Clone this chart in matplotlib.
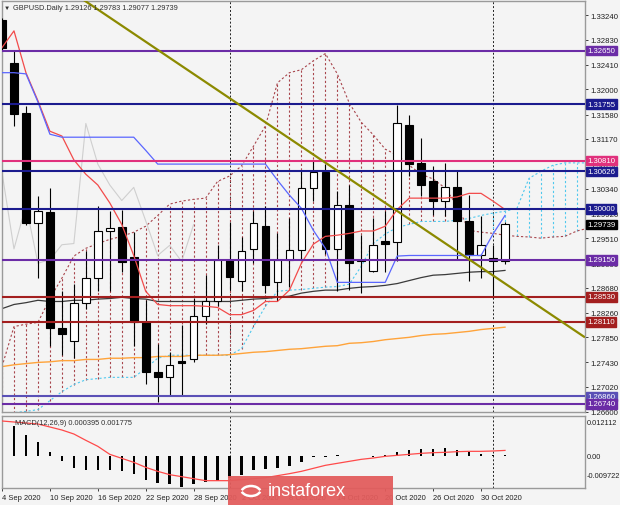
import matplotlib
matplotlib.use("Agg")
import matplotlib.pyplot as plt
import matplotlib.transforms as mtransforms
from matplotlib.patches import Rectangle, Arc
import numpy as np

plt.rcParams['font.family'] = ['Liberation Sans', 'DejaVu Sans']

# daily bars, 4 Sep 2020 .. 3 Nov 2020
dates = ["4 Sep", "7 Sep", "8 Sep", "9 Sep", "10 Sep", "11 Sep", "14 Sep", "15 Sep",
         "16 Sep", "17 Sep", "18 Sep", "21 Sep", "22 Sep", "23 Sep", "24 Sep", "25 Sep",
         "28 Sep", "29 Sep", "30 Sep", "1 Oct", "2 Oct", "5 Oct", "6 Oct", "7 Oct",
         "8 Oct", "9 Oct", "12 Oct", "13 Oct", "14 Oct", "15 Oct", "16 Oct", "19 Oct",
         "20 Oct", "21 Oct", "22 Oct", "23 Oct", "26 Oct", "27 Oct", "28 Oct", "29 Oct",
         "30 Oct", "2 Nov", "3 Nov"]

opens = [1.3317, 1.3244, 1.3160, 1.2976, 1.2994, 1.2800, 1.2779, 1.2843, 1.2884, 1.2963,
         1.2970, 1.2920, 1.2811, 1.2727, 1.2719, 1.2745, 1.2749, 1.2820, 1.2845, 1.2914,
         1.2880, 1.2933, 1.2972, 1.2877, 1.2915, 1.2932, 1.3035, 1.3061, 1.2933, 1.3006,
         1.2912, 1.2896, 1.2947, 1.2945, 1.3141, 1.3076, 1.3046, 1.3014, 1.3036, 1.2980,
         1.2922, 1.2918, 1.29126]
highs = [1.3320, 1.3265, 1.3172, 1.3021, 1.3035, 1.2863, 1.2875, 1.2929, 1.3005, 1.2996,
         1.2998, 1.2962, 1.2847, 1.2774, 1.2761, 1.2805, 1.2850, 1.2890, 1.2940, 1.2978,
         1.2953, 1.2996, 1.3005, 1.2960, 1.2985, 1.3063, 1.3082, 1.3075, 1.3030, 1.3040,
         1.2956, 1.2984, 1.2996, 1.3174, 1.3158, 1.3118, 1.3071, 1.3076, 1.3063, 1.3023,
         1.2988, 1.2940, 1.29783]
lows = [1.3266, 1.3139, 1.2973, 1.2884, 1.2770, 1.2755, 1.2750, 1.2833, 1.2862, 1.2862,
        1.2895, 1.2771, 1.2707, 1.2676, 1.2687, 1.2687, 1.2744, 1.2808, 1.2838, 1.2864,
        1.2862, 1.2910, 1.2860, 1.2845, 1.2870, 1.2915, 1.3013, 1.2925, 1.2862, 1.2864,
        1.2859, 1.2895, 1.2895, 1.2912, 1.3055, 1.3022, 1.2990, 1.2988, 1.2914, 1.2879,
        1.2884, 1.2850, 1.29077]
closes = [1.3270, 1.3159, 1.2976, 1.2996, 1.2800, 1.2790, 1.2843, 1.2884, 1.2963, 1.2968,
          1.2911, 1.2811, 1.2727, 1.2719, 1.2739, 1.2742, 1.2820, 1.2845, 1.2914, 1.2886,
          1.2930, 1.2976, 1.2872, 1.2914, 1.2932, 1.3035, 1.3061, 1.2933, 1.3006, 1.2909,
          1.2915, 1.2940, 1.2942, 1.3143, 1.3075, 1.3040, 1.3014, 1.3036, 1.2980, 1.2922,
          1.2939, 1.2912, 1.29739]

# ichimoku
tenkan = [1.3270, 1.3298, 1.3228, 1.3181, 1.3130, 1.3122, 1.3082, 1.3058, 1.3040, 1.3010,
          1.2974, 1.2922, 1.2862, 1.2840, 1.2838, 1.2838, 1.2838, 1.2837, 1.2835, 1.2823,
          1.2823, 1.2830, 1.2845, 1.2845, 1.2864, 1.2909, 1.2941, 1.2954, 1.2956, 1.2959,
          1.2963, 1.2963, 1.2971, 1.2999, 1.3018, 1.3018, 1.3018, 1.3018, 1.3020, 1.3026,
          1.3026, 1.3013, 1.2999]
kijun = [1.3228, 1.3228, 1.3226, 1.3179, 1.3125, 1.3120, 1.3120, 1.3120, 1.3120, 1.3120,
         1.3120, 1.3120, 1.3098, 1.3075, 1.3075, 1.3075, 1.3075, 1.3075, 1.3075, 1.3075,
         1.3075, 1.3075, 1.3075, 1.3048, 1.3023, 1.3001, 1.2964, 1.2934, 1.2877, 1.2877,
         1.2877, 1.2877, 1.2877, 1.2921, 1.2922, 1.2922, 1.2922, 1.2922, 1.2922, 1.2922,
         1.2922, 1.2958, 1.2989]
# senkou spans, already shifted forward (run past the last bar)
span_a = [1.2736, 1.2803, 1.2807, 1.2810, 1.2850, 1.2884, 1.2921, 1.2934, 1.2942, 1.2949,
          1.2954, 1.2961, 1.2971, 1.2989, 1.3008, 1.3013, 1.3016, 1.3018, 1.3046, 1.3055,
          1.3072, 1.3105, 1.3139, 1.3211, 1.3228, 1.3233, 1.3248, 1.3260, 1.3226, 1.3177,
          1.3145, 1.3124, 1.3100, 1.3090, 1.3073, 1.3058, 1.3050, 1.3035, 1.3005, 1.2964,
          1.2961, 1.2959, 1.2956, 1.2954, 1.2953, 1.2951, 1.2953, 1.2954, 1.2963, 1.2968]
span_b = [1.2656, 1.2659, 1.2661, 1.2664, 1.2679, 1.2694, 1.2706, 1.2714, 1.2716, 1.2718,
          1.2718, 1.2718, 1.2733, 1.2750, 1.2755, 1.2755, 1.2755, 1.2755, 1.2755, 1.2755,
          1.2766, 1.2803, 1.2837, 1.2862, 1.2864, 1.2865, 1.2867, 1.2869, 1.2870, 1.2874,
          1.2904, 1.2942, 1.2958, 1.2969, 1.2974, 1.2979, 1.2979, 1.2979, 1.2981, 1.2984,
          1.2989, 1.2993, 1.2996, 1.3001, 1.3051, 1.3063, 1.3073, 1.3077, 1.3077, 1.3077]
chikou_shift = 26

# moving averages
ma_dark = [1.2833, 1.2840, 1.2843, 1.2847, 1.2845, 1.2845, 1.2847, 1.2847, 1.2849, 1.2850,
           1.2852, 1.2850, 1.2849, 1.2845, 1.2845, 1.2845, 1.2845, 1.2845, 1.2845, 1.2845,
           1.2847, 1.2849, 1.2850, 1.2852, 1.2854, 1.2859, 1.2862, 1.2864, 1.2864, 1.2867,
           1.2869, 1.2870, 1.2872, 1.2875, 1.2880, 1.2885, 1.2889, 1.2890, 1.2892, 1.2894,
           1.2895, 1.2895, 1.2897]
ma_orange = [1.2736, 1.2739, 1.2741, 1.2743, 1.2744, 1.2746, 1.2746, 1.2748, 1.2748, 1.2750,
             1.2750, 1.2751, 1.2751, 1.2753, 1.2753, 1.2753, 1.2755, 1.2755, 1.2755, 1.2756,
             1.2758, 1.2760, 1.2761, 1.2763, 1.2765, 1.2766, 1.2768, 1.2770, 1.2771, 1.2775,
             1.2776, 1.2778, 1.2781, 1.2783, 1.2785, 1.2788, 1.2790, 1.2791, 1.2793, 1.2795,
             1.2798, 1.2800, 1.2802]

# MACD(12,26,9)
macd = [0.0106, 0.0091, 0.0064, 0.0043, 0.0012, -0.0015, -0.0034, -0.0042, -0.0042, -0.0042,
        -0.0044, -0.0053, -0.0071, -0.0079, -0.0084, -0.0091, -0.0084, -0.0077, -0.0073, -0.0065,
        -0.0056, -0.0041, -0.0039, -0.0034, -0.0029, -0.0017, -0.0003, -0.0002, 0.0003, 0.0001,
        0.0002, -0.0001, 0.0003, 0.0014, 0.0020, 0.0022, 0.0022, 0.0025, 0.0019, 0.0014,
        0.0007, 0.0003, 0.000395]
signal = [0.0106, 0.0103, 0.0100, 0.0097, 0.0088, 0.0079, 0.0067, 0.0048, 0.0030, 0.0006,
          -0.0006, -0.0018, -0.0033, -0.0045, -0.0055, -0.0061, -0.0067, -0.0073, -0.0073, -0.0073,
          -0.0070, -0.0067, -0.0064, -0.0058, -0.0052, -0.0045, -0.0036, -0.0027, -0.0021, -0.0015,
          -0.0009, -0.0005, 0.0000, 0.0003, 0.0006, 0.0009, 0.0011, 0.0012, 0.0014, 0.0015,
          0.0015, 0.0016, 0.001775]
macd_scale = [0.012112, 0.0, -0.009722]

# horizontal levels drawn on the chart
levels = [1.32650, 1.31755, 1.30810, 1.30626, 1.30000, 1.29150, 1.28530, 1.28110, 1.26860, 1.26740]
level_colors = ['#6b2ca6', '#1b1b8e', '#e0307c', '#1b1b8e', '#1b1b8e',
                '#6b2ca6', '#a31f1f', '#a31f1f', '#5a50b6', '#6b2ca6']
# trend line anchors (bar index, price)
trend_idx = [6.5, 48.6]
trend_price = [1.3354, 1.2786]

price_ticks = [1.33240, 1.32830, 1.32410, 1.32000, 1.31580, 1.31170, 1.30750, 1.30340,
               1.29920, 1.29510, 1.29090, 1.28680, 1.28260, 1.27850, 1.27430, 1.27020, 1.26600]

BG = '#f4f4f4'
W, H = 620, 506
fig = plt.figure(figsize=(W / 100, H / 100), dpi=100)
fig.patch.set_facecolor(BG)


def box(x0, y0, x1, y1):
    return [x0 / W, 1 - y1 / H, (x1 - x0) / W, (y1 - y0) / H]


ax = fig.add_axes(box(2, 2, 585, 413))
ax2 = fig.add_axes(box(2, 417, 585, 489), sharex=ax)
for a in (ax, ax2):
    a.set_facecolor(BG)
    for s in a.spines.values():
        s.set_color('#9a9a9a')
        s.set_linewidth(1.0)

n = len(dates)
x = np.arange(n)
ax.set_xlim(0.1, 48.68)
ax.set_ylim(1.2660, 1.3348)

# cloud
xs = np.arange(len(span_a))
sa = np.array(span_a)
sb = np.array(span_b)
up = sa >= sb
dots = (0, (2, 2))
ax.vlines(xs[up], sb[up], sa[up], colors='#a8454c', linestyles=dots, lw=0.8, zorder=1)
ax.vlines(xs[~up], sa[~up], sb[~up], colors='#4fc8ee', linestyles=dots, lw=0.8, zorder=1)
ax.plot(xs, sa, color='#a8454c', ls=dots, lw=0.8, zorder=1)
ax.plot(xs, sb, color='#4fc8ee', ls=dots, lw=0.8, zorder=1)

# chikou span (close moved back)
ax.plot(x - chikou_shift, closes, color='#cfcfcf', lw=0.8, zorder=1.5)

# moving averages
ax.plot(x, ma_orange, color='#ffa33a', lw=1.0, zorder=2)
ax.plot(x, ma_dark, color='#3a3a3a', lw=0.9, zorder=2)

# candles
for i in range(n):
    o, h, l, c = opens[i], highs[i], lows[i], closes[i]
    ax.vlines(i, l, h, color='black', lw=0.8, zorder=3)
    bull = c >= o
    ax.add_patch(Rectangle((i - 0.32, min(o, c)), 0.64, max(abs(c - o), 0.00005),
                           facecolor='white' if bull else 'black', edgecolor='black',
                           lw=0.8, zorder=3.1))

ax.plot(x, tenkan, color='#f24b4b', lw=0.9, zorder=4)
ax.plot(x, kijun, color='#5a66ff', lw=0.9, zorder=4)

for lv, col in zip(levels, level_colors):
    ax.axhline(lv, color=col, lw=1.5, zorder=5)

ax.plot(trend_idx, trend_price, color='#8c8a00', lw=1.6, zorder=6)

# month separators
for i in range(1, n):
    if dates[i].split()[1] != dates[i - 1].split()[1]:
        for a in (ax, ax2):
            a.axvline(i, color='#202020', ls=(0, (2, 2)), lw=0.7, zorder=0.5)

# price axis
ax.yaxis.tick_right()
ax.set_yticks(price_ticks)
ax.set_yticklabels([f"{t:.5f}" for t in price_ticks])
ax.tick_params(axis='y', labelsize=5.6, length=2, pad=1.5, colors='#202020', width=0.6)
ax.tick_params(axis='x', bottom=False, labelbottom=False)

tr = mtransforms.blended_transform_factory(ax.transAxes, ax.transData)
for lv, col in zip(levels, level_colors):
    ax.text(1.004, lv, f"{lv:.5f}", transform=tr, ha='left', va='center', fontsize=5.6,
            color='white', zorder=10, clip_on=False,
            bbox=dict(boxstyle='square,pad=0.18', fc=col, ec=col))
ax.text(1.004, closes[-1], f"{closes[-1]:.5f}", transform=tr, ha='left', va='center',
        fontsize=5.6, color='white', zorder=10, clip_on=False,
        bbox=dict(boxstyle='square,pad=0.18', fc='black', ec='black'))

fig.text(4 / W, 1 - 8 / H, "\u25bc", fontsize=4.5, color='#303030', va='center')
fig.text(13 / W, 1 - 8 / H,
         f"GBPUSD.Daily {opens[-1]:.5f} {highs[-1]:.5f} {lows[-1]:.5f} {closes[-1]:.5f}",
         fontsize=5.3, color='#303030', va='center')

# MACD panel
ax2.bar(x, macd, width=0.2, color='black', zorder=2)
ax2.plot(x, signal, color='#ff4a4a', lw=0.9, zorder=3)
ax2.set_ylim(-0.0095, 0.0121)
ax2.set_yticks([])
ax2.text(13 / 583, 0.905, f"MACD(12,26,9) {macd[-1]:.6f} {signal[-1]:.6f}",
         transform=ax2.transAxes, fontsize=5.3, color='#303030', va='center')
ax2.text(1.003, macd_scale[1], f"{macd_scale[1]:.2f}",
         transform=mtransforms.blended_transform_factory(ax2.transAxes, ax2.transData),
         fontsize=5.3, color='#202020', va='center')
ax2.text(1.003, 0.915, f"{macd_scale[0]:.6f}", transform=ax2.transAxes, fontsize=5.3,
         color='#202020', va='center')
ax2.text(1.003, 0.18, f"{macd_scale[2]:.6f}", transform=ax2.transAxes, fontsize=5.3,
         color='#202020', va='center')

tick_pos = x[::4]
ax2.set_xticks(tick_pos)
ax2.set_xticklabels([f"{dates[i]} 2020" for i in tick_pos], ha='left')
ax2.tick_params(axis='x', labelsize=5.4, length=2, pad=2, colors='#202020', width=0.6)

# watermark
fig.patches.append(Rectangle((228 / W, 0), 165 / W, 29 / H, transform=fig.transFigure,
                             facecolor='#e25c5c', alpha=0.94, edgecolor='none', zorder=20))
for cy, t1, t2 in [(16, 200, 340), (12, 20, 160)]:
    fig.patches.append(Arc((251 / W, cy / H), 20 / W, 14 / H, theta1=t1, theta2=t2,
                           transform=fig.transFigure, color='white', lw=1.8, zorder=21))
fig.text(268 / W, 14 / H, "instaforex", fontsize=13, color='white', va='center', zorder=21)

fig.savefig("out.png", dpi=100, facecolor=BG)
